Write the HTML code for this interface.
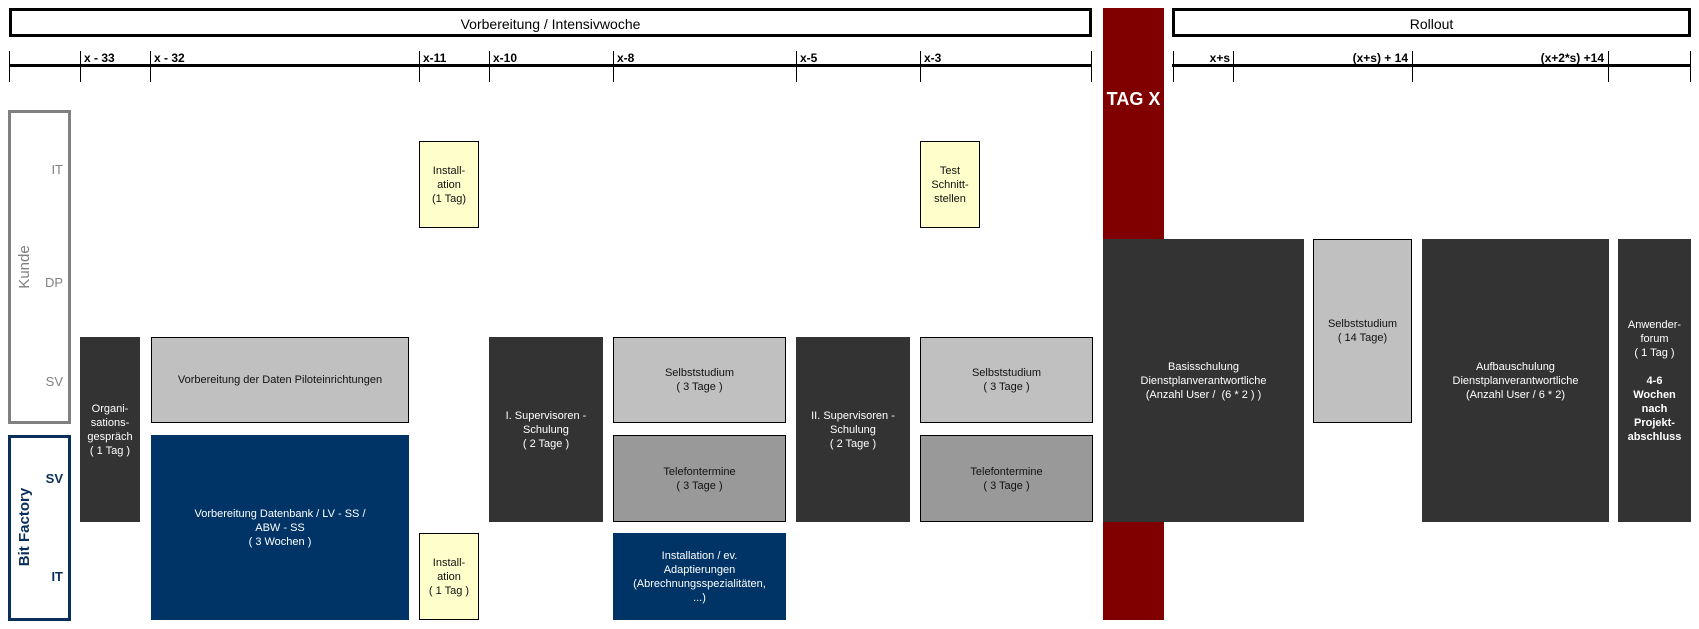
<!DOCTYPE html>
<html><head><meta charset="utf-8"><style>
body{margin:0;width:1699px;height:629px;background:#fff;position:relative;overflow:hidden;font-family:"Liberation Sans",sans-serif}
div{position:absolute;box-sizing:border-box}
div div{position:static}
.hb{border:3px solid #000;display:flex;align-items:center;justify-content:center;font-size:14px;padding-top:2px}
.tk{width:1px;background:#000;top:51px;height:31px}
.tl{font-size:12px;font-weight:bold;top:51px;line-height:14px}
.b{display:flex;align-items:center;justify-content:center;text-align:center;font-size:11px;line-height:14px}
.d{background:#333;color:#fff}
.l{background:#c0c0c0;border:1px solid #000;color:#111}
.m{background:#999;border:1px solid #000;color:#111}
.n{background:#003366;color:#fff}
.y{background:#ffffcc;border:1px solid #000;color:#111}
.lab{font-size:13px;width:30px;text-align:right}
</style></head><body>
<div class="hb" style="left:9px;top:8px;width:1083px;height:29px">Vorbereitung / Intensivwoche</div>
<div class="hb" style="left:1172px;top:8px;width:519px;height:29px">Rollout</div>
<div style="left:9px;top:64px;width:1083px;height:3px;background:#000"></div>
<div style="left:1172px;top:64px;width:519px;height:3px;background:#000"></div>
<div class="tk" style="left:9px"></div>
<div class="tk" style="left:80px"></div><div class="tl" style="left:84px">x - 33</div>
<div class="tk" style="left:150px"></div><div class="tl" style="left:154px">x - 32</div>
<div class="tk" style="left:419px"></div><div class="tl" style="left:423px">x-11</div>
<div class="tk" style="left:489px"></div><div class="tl" style="left:493px">x-10</div>
<div class="tk" style="left:613px"></div><div class="tl" style="left:617px">x-8</div>
<div class="tk" style="left:796px"></div><div class="tl" style="left:800px">x-5</div>
<div class="tk" style="left:920px"></div><div class="tl" style="left:924px">x-3</div>
<div class="tk" style="left:1091px"></div>
<div class="tk" style="left:1173px"></div>
<div class="tk" style="left:1233px"></div><div class="tl" style="left:1180px;width:50px;text-align:right">x+s</div>
<div class="tk" style="left:1412px"></div><div class="tl" style="left:1300px;width:108px;text-align:right">(x+s) + 14</div>
<div class="tk" style="left:1608px"></div><div class="tl" style="left:1480px;width:124px;text-align:right">(x+2*s) +14</div>
<div class="tk" style="left:1690px"></div>

<div style="left:8px;top:110px;width:63px;height:314px;border:3px solid #808080"></div>
<div style="left:8px;top:435px;width:63px;height:186px;border:3px solid #0a2f5a"></div>
<div style="left:-25px;top:258px;width:100px;height:18px;transform:rotate(-90deg);text-align:center;color:#808080;font-size:15px">Kunde</div>
<div style="left:-35px;top:518px;width:120px;height:18px;transform:rotate(-90deg);text-align:center;color:#0a2f5a;font-size:15px;font-weight:bold">Bit Factory</div>
<div class="lab" style="left:33px;top:162px;color:#808080">IT</div>
<div class="lab" style="left:33px;top:275px;color:#808080">DP</div>
<div class="lab" style="left:33px;top:374px;color:#808080">SV</div>
<div class="lab" style="left:33px;top:471px;color:#0a2f5a;font-weight:bold">SV</div>
<div class="lab" style="left:33px;top:569px;color:#0a2f5a;font-weight:bold">IT</div>

<div style="left:1103px;top:8px;width:61px;height:612px;background:#800000"></div>
<div style="left:1103px;top:89px;width:61px;color:#fff;font-weight:bold;font-size:18px;text-align:center">TAG X</div>

<div class="b y" style="left:419px;top:141px;width:60px;height:87px">Install-<br>ation<br>(1 Tag)</div>
<div class="b y" style="left:920px;top:141px;width:60px;height:87px">Test<br>Schnitt-<br>stellen</div>
<div class="b d" style="left:80px;top:337px;width:60px;height:185px">Organi-<br>sations-<br>gespräch<br>( 1 Tag )</div>
<div class="b l" style="left:151px;top:337px;width:258px;height:86px">Vorbereitung der Daten Piloteinrichtungen</div>
<div class="b n" style="left:151px;top:435px;width:258px;height:185px">Vorbereitung Datenbank / LV - SS /<br>ABW - SS<br>( 3 Wochen )</div>
<div class="b y" style="left:419px;top:533px;width:60px;height:87px">Install-<br>ation<br>( 1 Tag )</div>
<div class="b d" style="left:489px;top:337px;width:114px;height:185px">I. Supervisoren -<br>Schulung<br>( 2 Tage )</div>
<div class="b l" style="left:613px;top:337px;width:173px;height:86px">Selbststudium<br>( 3 Tage )</div>
<div class="b m" style="left:613px;top:435px;width:173px;height:87px">Telefontermine<br>( 3 Tage )</div>
<div class="b n" style="left:613px;top:533px;width:173px;height:87px">Installation / ev.<br>Adaptierungen<br>(Abrechnungsspezialitäten,<br>...)</div>
<div class="b d" style="left:796px;top:337px;width:114px;height:185px">II. Supervisoren -<br>Schulung<br>( 2 Tage )</div>
<div class="b l" style="left:920px;top:337px;width:173px;height:86px">Selbststudium<br>( 3 Tage )</div>
<div class="b m" style="left:920px;top:435px;width:173px;height:87px">Telefontermine<br>( 3 Tage )</div>
<div class="b d" style="left:1103px;top:239px;width:201px;height:283px">Basisschulung<br>Dienstplanverantwortliche<br>(Anzahl User /&nbsp; (6 * 2 ) )</div>
<div class="b l" style="left:1313px;top:239px;width:99px;height:184px">Selbststudium<br>( 14 Tage)</div>
<div class="b d" style="left:1422px;top:239px;width:187px;height:283px">Aufbauschulung<br>Dienstplanverantwortliche<br>(Anzahl User / 6 * 2)</div>
<div class="b d" style="left:1618px;top:239px;width:73px;height:283px"><div>Anwender-<br>forum<br>( 1 Tag )<br><br><b>4-6<br>Wochen<br>nach<br>Projekt-<br>abschluss</b></div></div>
</body></html>
